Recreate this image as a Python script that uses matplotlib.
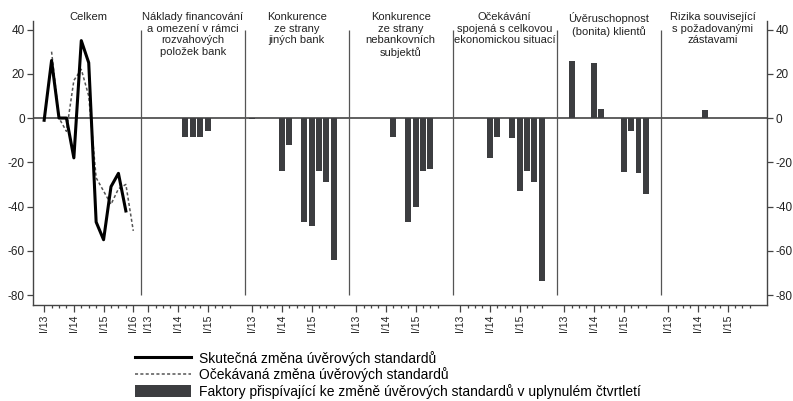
import matplotlib
matplotlib.use('Agg')
import matplotlib.pyplot as plt
import numpy as np
from matplotlib.lines import Line2D
from matplotlib.patches import Patch

plt.rcParams['font.family'] = ['Liberation Sans', 'DejaVu Sans']
plt.rcParams['axes.unicode_minus'] = False

# quarters I/13 .. IV/15 (panel "Celkem" runs on to I/16)
quarters = ['I/13', 'II/13', 'III/13', 'IV/13', 'I/14', 'II/14', 'III/14', 'IV/14',
            'I/15', 'II/15', 'III/15', 'IV/15']
quarters_celkem = quarters + ['I/16']

panel_titles = ['Celkem',
                'Náklady financování\na omezení v rámci\nrozvahových\npoložek bank',
                'Konkurence\nze strany\njiných bank',
                'Konkurence\nze strany\nnebankovních\nsubjektů',
                'Očekávání\nspojená s celkovou\nekonomickou situací',
                'Úvěruschopnost\n(bonita) klientů',
                'Rizika související\ns požadovanými\nzástavami']

# Celkem
skutecna = [-1, 26, 0, 0, -18, 35, 25, -47, -55, -31, -25, -42]
ocekavana = [np.nan, 30, 0, -6, 17, 22, 10, -27, -33, -39, -32, -30, -51]

# factors
naklady = [0, 0, 0, 0, 0, -8.5, -8.5, -8.5, -6, 0, 0, 0]
jine_banky = [-0.5, 0, 0, 0, -24, -12, 0, -47, -49, -24, -29, -64]
nebankovni = [0, 0, 0, 0, 0, -8.5, 0, -47, -40, -24, -23, 0]
ekonomika = [0, 0, 0, 0, -18, -8.5, 0, -9, -33, -24, -29, -73.5]
bonita = [0, 26, 0, 0, 25, 4, 0, 0, -24.5, -6, -25, -34.5]
zastavy = [0, 0, 0, 0, 0, 3.5, 0, 0, 0, 0, 0, 0]
faktory = [naklady, jine_banky, nebankovni, ekonomika, bonita, zastavy]

legend_labels = ['Skutečná změna úvěrových standardů',
                 'Očekávaná změna úvěrových standardů',
                 'Faktory přispívající ke změně úvěrových standardů v uplynulém čtvrtletí']

step = 14  # slots per panel
bar_color = '#3c3d40'
line_gray = '#555555'
text_color = '#222222'

fig = plt.figure(figsize=(7.93, 4.01), dpi=100)
ax = fig.add_axes([33 / 793, 96 / 401, 734 / 793, 284.3 / 401])

x0 = np.arange(len(quarters_celkem))
ax.plot(x0[:len(skutecna)], skutecna, color='black', lw=2.2, zorder=4)
ax.plot(x0, ocekavana, color=line_gray, lw=1.1, ls=(0, (2, 1.5)), zorder=3)

for k, vals in enumerate(faktory, start=1):
    ax.bar(np.arange(len(vals)) + step * k, vals, width=0.8, color=bar_color, zorder=2)

ax.axhline(0, color='#444444', lw=1.2, zorder=1)
ax.vlines([step * k - 1 for k in range(1, 7)], -80, 40, color=line_gray, lw=0.9, zorder=1)

for k, t in enumerate(panel_titles):
    ax.text(step * k + 6, 1.03, t, transform=ax.get_xaxis_transform(), ha='center', va='top',
            fontsize=8, linespacing=1.2, color=text_color)

# ticks
major, major_lab, minor = [], [], []
for k in range(7):
    qs = quarters_celkem if k == 0 else quarters
    for i, q in enumerate(qs):
        if q.startswith('I/'):
            major.append(step * k + i)
            major_lab.append(q)
        else:
            minor.append(step * k + i)
ax.set_xticks(major)
ax.set_xticklabels(major_lab, rotation=90, fontsize=7.5, color=text_color)
ax.set_xticks(minor, minor=True)
ax.tick_params(axis='x', which='major', length=5, width=0.9, color='#444444', pad=2)
ax.tick_params(axis='x', which='minor', length=2.5, width=0.9, color='#444444')

ax.set_xlim(-1.5, 97.3)
ax.set_ylim(-84.5, 44)
ax.set_yticks(range(-80, 41, 20))
ax.tick_params(axis='y', labelsize=8.5, labelcolor=text_color, length=4, width=0.9,
               color='#444444', right=True, labelright=True, pad=2)

for s in ['left', 'right', 'bottom']:
    ax.spines[s].set_color('#444444')
    ax.spines[s].set_linewidth(1.0)
ax.spines['top'].set_visible(False)

handles = [Line2D([], [], color='black', lw=2.2),
           Line2D([], [], color=line_gray, lw=1.1, ls=(0, (2, 1.5))),
           Patch(facecolor=bar_color, edgecolor='none')]
fig.legend(handles, legend_labels, loc='upper left', bbox_to_anchor=(135 / 793, 1 - 351 / 401),
           frameon=False, fontsize=10, handlelength=4, handletextpad=0.6, borderpad=0,
           borderaxespad=0, labelspacing=0.1, handleheight=1.05)

fig.savefig('out.png', dpi=100)
